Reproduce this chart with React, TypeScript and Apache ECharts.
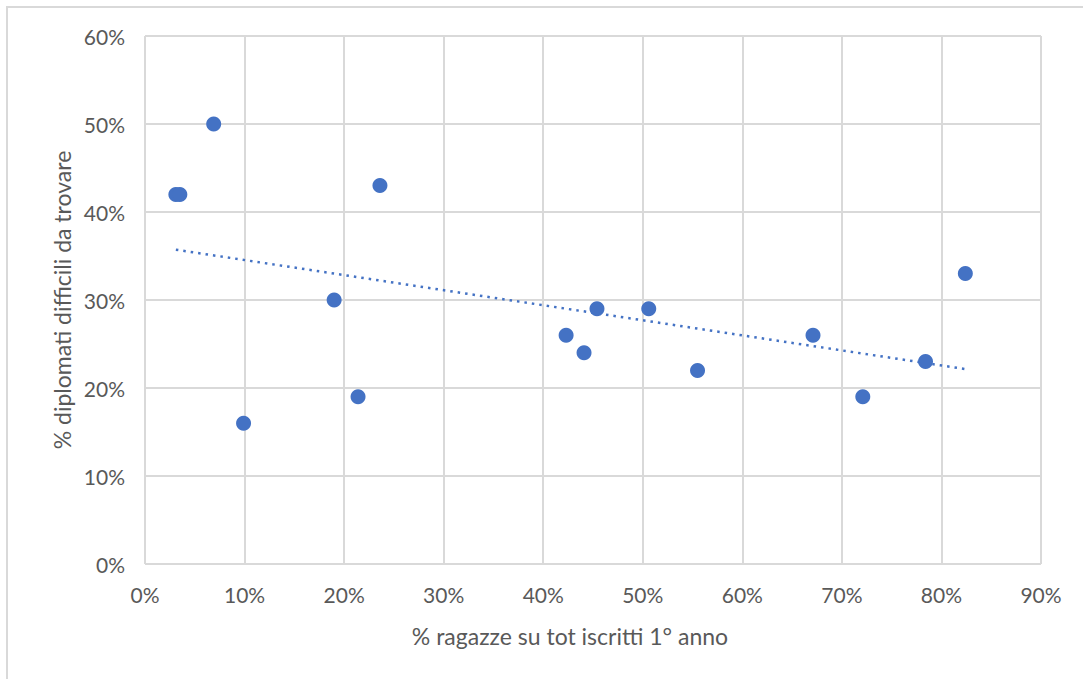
import React, { useEffect, useRef } from "react";
import * as echarts from "echarts";

const xValues = [3.1, 3.5, 6.9, 9.9, 19.0, 21.4, 23.6, 42.3, 44.1, 45.4, 50.6, 55.5, 67.1, 72.1, 78.4, 82.4];
const yValues = [42, 42, 50, 16, 30, 19, 43, 26, 24, 29, 29, 22, 26, 19, 23, 33];
const xTicks = [0, 10, 20, 30, 40, 50, 60, 70, 80, 90];
const yTicks = [0, 10, 20, 30, 40, 50, 60];
const xTitle = "% ragazze su tot iscritti 1° anno";
const yTitle = "% diplomati difficili da trovare";

function regression(xs: number[], ys: number[]) {
  const n = xs.length;
  const mx = xs.reduce((a, b) => a + b, 0) / n;
  const my = ys.reduce((a, b) => a + b, 0) / n;
  let sxy = 0, sxx = 0;
  for (let i = 0; i < n; i++) {
    sxy += (xs[i] - mx) * (ys[i] - my);
    sxx += (xs[i] - mx) * (xs[i] - mx);
  }
  const b = sxy / sxx;
  return { a: my - b * mx, b };
}

export default function App() {
  const ref = useRef<HTMLDivElement>(null);
  useEffect(() => {
    if (!ref.current) return;
    const chart = echarts.init(ref.current, null, { renderer: "svg" });
    const { a, b } = regression(xValues, yValues);
    const xmin = Math.min(...xValues);
    const xmax = Math.max(...xValues);
    const trend = [
      [xmin, a + b * xmin],
      [xmax, a + b * xmax],
    ];
    const font = "Lato, 'Open Sans', sans-serif";
    chart.setOption({
      animation: false,
      backgroundColor: "#ffffff",
      grid: { left: 145, right: 42, top: 36, bottom: 115 },
      graphic: [
        {
          type: "rect",
          shape: { x: 7, y: 7, width: 1200, height: 1000 },
          style: { fill: "none", stroke: "#d9d9d9", lineWidth: 2 },
          silent: true,
        },
        {
          type: "text",
          x: 570,
          y: 636,
          style: {
            text: xTitle,
            fill: "#595959",
            font: `23px ${font}`,
            textAlign: "center",
            textVerticalAlign: "middle",
          },
        },
        {
          type: "text",
          x: 62,
          y: 300,
          rotation: Math.PI / 2,
          style: {
            text: yTitle,
            fill: "#595959",
            font: `23px ${font}`,
            textAlign: "center",
            textVerticalAlign: "middle",
          },
        },
      ],
      xAxis: {
        type: "value",
        min: 0,
        max: 90,
        interval: 10,
        axisLine: { show: false },
        axisTick: { show: false },
        axisLabel: {
          formatter: (v: number) => (xTicks.includes(v) ? `${v}%` : ""),
          color: "#595959",
          fontSize: 21,
          fontFamily: font,
          margin: 20,
        },
        splitLine: { show: true, lineStyle: { color: "#d9d9d9", width: 2 } },
      },
      yAxis: {
        type: "value",
        min: 0,
        max: 60,
        interval: 10,
        axisLine: { show: false },
        axisTick: { show: false },
        axisLabel: {
          formatter: (v: number) => (yTicks.includes(v) ? `${v}%` : ""),
          color: "#595959",
          fontSize: 21,
          fontFamily: font,
          margin: 20,
        },
        splitLine: { show: true, lineStyle: { color: "#d9d9d9", width: 2 } },
      },
      series: [
        {
          type: "line",
          data: trend,
          symbol: "none",
          lineStyle: { color: "#4472c4", width: 2.5, type: [2.5, 5] },
          z: 2,
        },
        {
          type: "scatter",
          data: xValues.map((x, i) => [x, yValues[i]]),
          symbolSize: 15,
          itemStyle: { color: "#4472c4", opacity: 1 },
          z: 3,
        },
      ],
    });
    return () => chart.dispose();
  }, []);
  return (
    <div
      ref={ref}
      style={{ position: "fixed", left: 0, top: 0, width: 1083, height: 679 }}
    />
  );
}
